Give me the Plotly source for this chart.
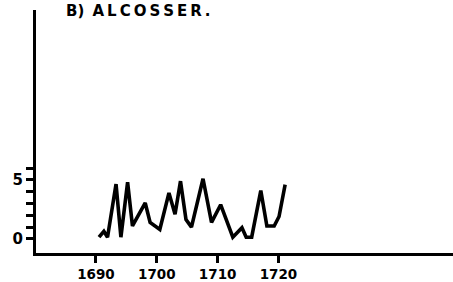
import plotly.graph_objects as go

# Data (year, value)
years = [1690.5, 1691.3, 1691.9, 1693.3, 1694.1, 1695.2, 1696.0, 1698.1, 1698.9,
         1700.5, 1702.0, 1703.0, 1703.9, 1704.8, 1705.7, 1707.6, 1709.0, 1710.5,
         1712.5, 1714.0, 1714.7, 1715.6, 1717.1, 1718.1, 1719.3, 1720.1, 1721.1]
values = [0.15, 0.65, 0.15, 4.65, 0.15, 4.8, 1.1, 3.05, 1.4,
          0.8, 3.9, 2.1, 4.9, 1.65, 1.0, 5.1, 1.4, 2.9,
          0.15, 0.95, 0.15, 0.15, 4.1, 1.1, 1.1, 1.9, 4.6]

x_tickvals = [1690, 1700, 1710, 1720]
x_ticktext = ["1690", "1700", "1710", "1720"]
y_tickvals = [0, 1, 2, 3, 4, 5, 6]
y_ticktext = ["0", "", "", "", "", "5", ""]
title_text = "B)\u2009 A\u2009L\u2009C\u2009O\u2009S\u2009S\u2009E\u2009R\u2009."

font_family = "DejaVu Sans"

fig = go.Figure()
fig.add_trace(go.Scatter(
    x=years, y=values, mode="lines",
    line=dict(color="black", width=3.6),
    hoverinfo="skip", showlegend=False,
))

fig.update_layout(
    width=453, height=282,
    margin=dict(l=36, r=0, t=10, b=29),
    paper_bgcolor="white", plot_bgcolor="white",
    xaxis=dict(
        range=[1680.14, 1748.7],
        tickvals=x_tickvals, ticktext=x_ticktext,
        ticks="outside", ticklen=7, tickwidth=2.5, tickcolor="black",
        showline=True, linecolor="black", linewidth=3,
        showgrid=False, zeroline=False, automargin=False,
        tickfont=dict(family=font_family, size=13.5, color="black", weight="bold"),
    ),
    yaxis=dict(
        range=[-1.19, 19.4],
        tickvals=y_tickvals, ticktext=y_ticktext,
        ticks="outside", ticklen=7, tickwidth=2.5, tickcolor="black",
        showline=True, linecolor="black", linewidth=3,
        showgrid=False, zeroline=False, automargin=False,
        tickfont=dict(family=font_family, size=15, color="black", weight="bold"),
    ),
    annotations=[dict(
        text=title_text, xref="paper", yref="paper",
        x=0.068, y=1.041, xanchor="left", yanchor="top",
        showarrow=False,
        font=dict(family=font_family, size=15, color="black", weight="bold"),
    )],
)

fig.write_html(
    "out.html",
    config={"displayModeBar": False},
    post_script="document.body.style.margin='0';document.body.style.padding='0';",
)
